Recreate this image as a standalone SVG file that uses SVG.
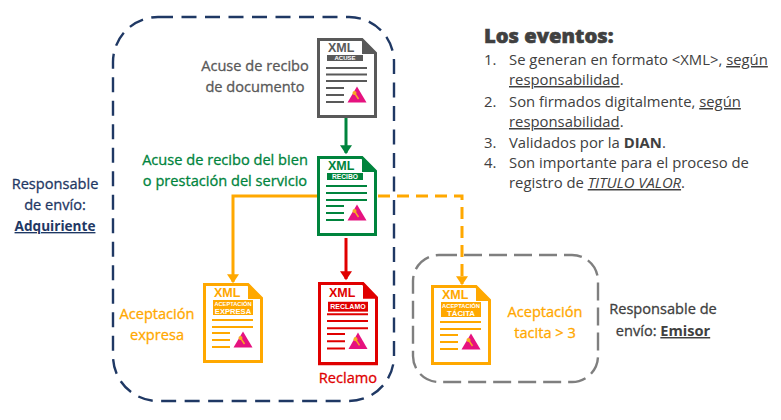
<svg xmlns="http://www.w3.org/2000/svg" width="781" height="420" viewBox="0 0 781 420">
<style>
text{font-family:"Open Sans","Noto Sans","Liberation Sans",sans-serif}
.lb{font-size:14.600px;text-anchor:middle;font-weight:400;fill:currentColor;stroke:currentColor;stroke-width:.3px}
.li{font-size:14.850px;fill:#404040}
.u{text-decoration:underline}
.xml{font-family:"Liberation Sans",Arial,sans-serif;font-size:12.500px;font-weight:700;fill:currentColor}
.tag{font-family:"Liberation Sans",Arial,sans-serif;font-size:6px;font-weight:700;fill:#fff;text-anchor:middle}
.ln{stroke:currentColor;stroke-width:2;fill:none}
.cn{fill:none;stroke-width:3}
</style>
<defs>
<g id="frame">
<path d="M1.500 1.500H45L58.500 15V78.500H1.500Z" fill="#fff" stroke="currentColor" stroke-width="3"/>
<path d="M45 1L60 16H45Z" fill="currentColor"/>
<text class="xml" x="11" y="14">XML</text>
<path class="ln" d="M9 50H27M9 57H27M9 64H27"/>
<path d="M40 48.500L49.500 64.500H30.500Z" fill="#e6127f"/>
<path d="M37.500 55L41.500 61" stroke="#f7a823" stroke-width="1.500" fill="none"/>
<circle cx="37.500" cy="55" r="2" fill="#f7a823"/>
</g>
<marker id="ag" markerWidth="4" markerHeight="4" refX="2.600" refY="2" orient="auto" markerUnits="strokeWidth"><path d="M0 0L3 2L0 4Z" fill="#00843d"/></marker>
<marker id="ar" markerWidth="4" markerHeight="4" refX="2.600" refY="2" orient="auto" markerUnits="strokeWidth"><path d="M0 0L3 2L0 4Z" fill="#e00000"/></marker>
<marker id="ao" markerWidth="4" markerHeight="4" refX="2.600" refY="2" orient="auto" markerUnits="strokeWidth"><path d="M0 0L3 2L0 4Z" fill="#ffa800"/></marker>
</defs>

<g id="region-adquiriente"><rect x="113" y="17" width="281" height="384" rx="45" fill="none" stroke="#1f3864" stroke-width="2.400" stroke-dasharray="15 8.500"/></g>
<g id="region-emisor"><rect x="413" y="255" width="185" height="127" rx="26" fill="none" stroke="#7f7f7f" stroke-width="2.400" stroke-dasharray="18 7"/></g>

<g id="connectors">
<path class="cn" d="M346 117V153" stroke="#00843d" marker-end="url(#ag)"/>
<path class="cn" d="M346 238V279" stroke="#e00000" marker-end="url(#ar)"/>
<path class="cn" d="M317 196H233V282" stroke="#ffa800" marker-end="url(#ao)"/>
<path class="cn" d="M378 196H462V284" stroke="#ffa800" stroke-dasharray="12 7" marker-end="url(#ao)"/>
</g>

<g id="doc-acuse" transform="translate(317 38)" color="#595959">
<use href="#frame"/>
<rect x="10" y="17" width="36" height="6" fill="currentColor"/>
<text class="tag" x="28" y="22.300">ACUSE</text>
<path class="ln" d="M9 30H50M9 36.500H50M9 43H50"/>
</g>
<g id="doc-recibo" transform="translate(317 156)" color="#00843d">
<use href="#frame"/>
<rect x="10" y="17" width="36" height="7" fill="currentColor"/>
<text class="tag" x="28" y="23" style="font-size:6.700px">RECIBO</text>
<path class="ln" d="M9 30H50M9 37H50M9 44H50"/>
</g>
<g id="doc-expresa" transform="translate(203 283)" color="#ffa800">
<use href="#frame"/>
<rect x="10" y="17" width="40" height="15" fill="currentColor"/>
<text class="tag" x="30" y="23" style="font-size:5.700px">ACEPTACIÓN</text>
<text class="tag" x="30" y="30.700" style="font-size:7.600px">EXPRESA</text>
<path class="ln" d="M9 37H50M9 44H50"/>
</g>
<g id="doc-reclamo" transform="translate(318 282) scale(1 1.040)" color="#e00000">
<use href="#frame"/>
<rect x="10" y="19" width="40" height="9.500" fill="currentColor"/>
<text class="tag" x="30" y="26.300" style="font-size:7px">RECLAMO</text>
<path class="ln" d="M9 31H50M9 37.500H50M9 44.500H50"/>
</g>
<g id="doc-tacita" transform="translate(431 285)" color="#ffa800">
<use href="#frame"/>
<rect x="10" y="17" width="40" height="15" fill="currentColor"/>
<text class="tag" x="30" y="23" style="font-size:5.800px">ACEPTACIÓN</text>
<text class="tag" x="30" y="30.700" style="font-size:7.800px">TÁCITA</text>
<path class="ln" d="M9 37H50M9 44H50"/>
</g>

<g id="label-acuse" color="#595959"><text class="lb" x="255" y="71">Acuse de recibo</text><text class="lb" x="255" y="92">de documento</text></g>
<g id="label-recibo" color="#00843d"><text class="lb" x="225" y="165">Acuse de recibo del bien</text><text class="lb" x="225" y="186">o prestación del servicio</text></g>
<g id="label-expresa" color="#ffa800"><text class="lb" x="157" y="319">Aceptación</text><text class="lb" x="157" y="340">expresa</text></g>
<g id="label-reclamo" color="#e00000"><text class="lb" x="348" y="383">Reclamo</text></g>
<g id="label-tacita" color="#ffa800"><text class="lb" x="545" y="317">Aceptación</text><text class="lb" x="545" y="338">tacita &gt; 3</text></g>
<g id="label-adquiriente" color="#1f3864"><text class="lb" x="55" y="189">Responsable</text><text class="lb" x="55" y="210">de envío:</text><text class="lb u" x="55" y="231" style="font-weight:700;font-size:13.600px;stroke-width:0">Adquiriente</text></g>
<g id="label-emisor" color="#404040"><text class="lb" x="663" y="314">Responsable de</text><text class="lb" x="663" y="336">envío: <tspan class="u" style="font-weight:700;stroke-width:0">Emisor</tspan></text></g>

<g id="eventos">
<text x="484" y="43" style="font-size:20.200px;font-weight:800" fill="#404040" stroke="#404040" stroke-width=".6">Los eventos:</text>
<text class="li" x="484" y="65">1.</text><text class="li" x="509" y="65">Se generan en formato &lt;XML&gt;, <tspan class="u">según</tspan></text>
<text class="li" x="509" y="85"><tspan class="u">responsabilidad</tspan>.</text>
<text class="li" x="484" y="107">2.</text><text class="li" x="509" y="107">Son firmados digitalmente, <tspan class="u">según</tspan></text>
<text class="li" x="509" y="127"><tspan class="u">responsabilidad</tspan>.</text>
<text class="li" x="484" y="148">3.</text><text class="li" x="509" y="148">Validados por la <tspan style="font-weight:700">DIAN</tspan>.</text>
<text class="li" x="484" y="168">4.</text><text class="li" x="509" y="168">Son importante para el proceso de</text>
<text class="li" x="509" y="188">registro de <tspan class="u" style="font-style:italic">TITULO VALOR</tspan>.</text>
</g>
</svg>
